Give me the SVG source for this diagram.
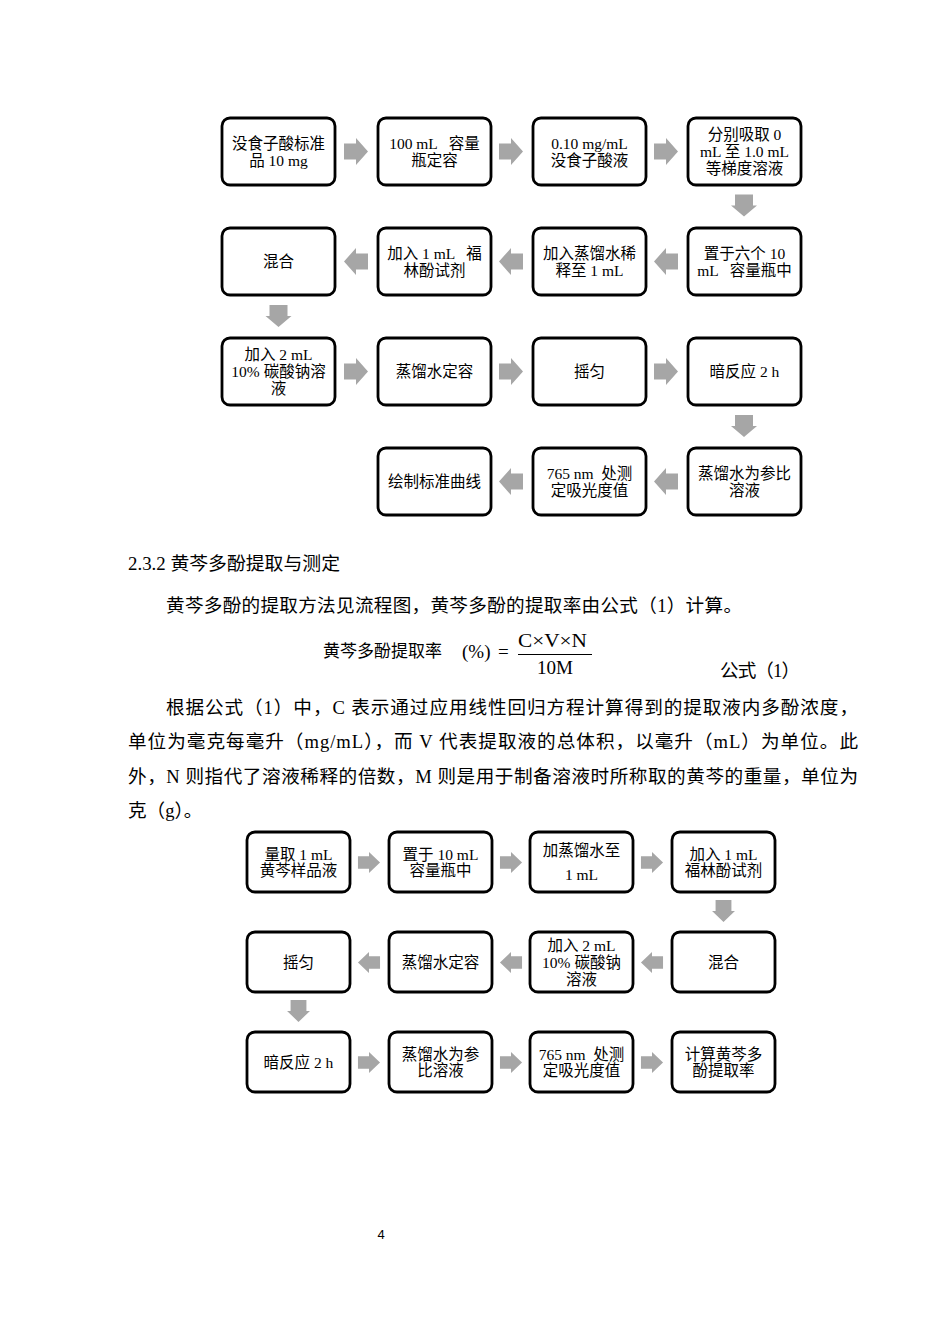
<svg xmlns="http://www.w3.org/2000/svg" width="950" height="1344" viewBox="0 0 950 1344">
<style>
.box{fill:#fff;stroke:#000;stroke-width:2.8}
.t{font-family:"Liberation Serif","Noto Sans CJK SC",sans-serif;font-size:15.5px;fill:#000;text-anchor:middle}
.b{font-family:"Liberation Serif","Noto Sans CJK SC",serif;font-size:18.6px;fill:#000}
.f{font-family:"Liberation Serif","Noto Sans CJK SC",serif;fill:#000}
.ar{fill:#A6A6A6}
</style>
<defs>
<polygon id="ah" points="-12,-8 0,-8 0,-13.5 12,0 0,13.5 0,8 -12,8"/>
<polygon id="av" points="-9,-11 9,-11 9,0 13,0 0,11 -13,0 -9,0"/>
</defs>
<rect width="950" height="1344" fill="#fff"/>

<g id="connectors" class="ar">
<!-- top flowchart -->
<use href="#ah" transform="translate(356,151.5)"/>
<use href="#ah" transform="translate(511,151.5)"/>
<use href="#ah" transform="translate(666,151.5)"/>
<use href="#av" transform="translate(744,205.5)"/>
<use href="#ah" transform="translate(666,261.5) rotate(180)"/>
<use href="#ah" transform="translate(511,261.5) rotate(180)"/>
<use href="#ah" transform="translate(356,261.5) rotate(180)"/>
<use href="#av" transform="translate(278.5,316)"/>
<use href="#ah" transform="translate(356,371.5)"/>
<use href="#ah" transform="translate(511,371.5)"/>
<use href="#ah" transform="translate(666,371.5)"/>
<use href="#av" transform="translate(744,426)"/>
<use href="#ah" transform="translate(666,481.5) rotate(180)"/>
<use href="#ah" transform="translate(511,481.5) rotate(180)"/>
<!-- bottom flowchart -->
<use href="#ah" transform="translate(369,862.5) scale(0.92,0.78)"/>
<use href="#ah" transform="translate(511,862.5) scale(0.92,0.78)"/>
<use href="#ah" transform="translate(652,862.5) scale(0.92,0.78)"/>
<use href="#av" transform="translate(723.5,911) scale(0.88,1)"/>
<use href="#ah" transform="translate(652,962.5) rotate(180) scale(0.92,0.78)"/>
<use href="#ah" transform="translate(511,962.5) rotate(180) scale(0.92,0.78)"/>
<use href="#ah" transform="translate(369,962.5) rotate(180) scale(0.92,0.78)"/>
<use href="#av" transform="translate(298.5,1011) scale(0.88,1)"/>
<use href="#ah" transform="translate(369,1062.5) scale(0.92,0.78)"/>
<use href="#ah" transform="translate(511,1062.5) scale(0.92,0.78)"/>
<use href="#ah" transform="translate(652,1062.5) scale(0.92,0.78)"/>
</g>

<!-- top flowchart nodes -->
<g id="n1"><rect class="box" x="222" y="118" width="113" height="67" rx="8"/>
<text class="t" x="278.5" y="148.5">没食子酸标准</text><text class="t" x="278.5" y="165.5">品 10 mg</text></g>
<g id="n2"><rect class="box" x="378" y="118" width="113" height="67" rx="8"/>
<text class="t" x="434.5" y="148.5" xml:space="preserve">100 mL   容量</text><text class="t" x="434.5" y="165.5">瓶定容</text></g>
<g id="n3"><rect class="box" x="533" y="118" width="113" height="67" rx="8"/>
<text class="t" x="589.5" y="148.5">0.10 mg/mL</text><text class="t" x="589.5" y="165.5">没食子酸液</text></g>
<g id="n4"><rect class="box" x="688" y="118" width="113" height="67" rx="8"/>
<text class="t" x="744.5" y="140">分别吸取 0</text><text class="t" x="744.5" y="157">mL 至 1.0 mL</text><text class="t" x="744.5" y="174">等梯度溶液</text></g>

<g id="n5"><rect class="box" x="688" y="228" width="113" height="67" rx="8"/>
<text class="t" x="744.5" y="258.5">置于六个 10</text><text class="t" x="744.5" y="275.5" xml:space="preserve">mL   容量瓶中</text></g>
<g id="n6"><rect class="box" x="533" y="228" width="113" height="67" rx="8"/>
<text class="t" x="589.5" y="258.5">加入蒸馏水稀</text><text class="t" x="589.5" y="275.5">释至 1 mL</text></g>
<g id="n7"><rect class="box" x="378" y="228" width="113" height="67" rx="8"/>
<text class="t" x="434.5" y="258.5" xml:space="preserve">加入 1 mL   福</text><text class="t" x="434.5" y="275.5">林酚试剂</text></g>
<g id="n8"><rect class="box" x="222" y="228" width="113" height="67" rx="8"/>
<text class="t" x="278.5" y="267">混合</text></g>

<g id="n9"><rect class="box" x="222" y="338" width="113" height="67" rx="8"/>
<text class="t" x="278.5" y="360">加入 2 mL</text><text class="t" x="278.5" y="377">10% 碳酸钠溶</text><text class="t" x="278.5" y="394">液</text></g>
<g id="n10"><rect class="box" x="378" y="338" width="113" height="67" rx="8"/>
<text class="t" x="434.5" y="377">蒸馏水定容</text></g>
<g id="n11"><rect class="box" x="533" y="338" width="113" height="67" rx="8"/>
<text class="t" x="589.5" y="377">摇匀</text></g>
<g id="n12"><rect class="box" x="688" y="338" width="113" height="67" rx="8"/>
<text class="t" x="744.5" y="377">暗反应 2 h</text></g>

<g id="n13"><rect class="box" x="688" y="448" width="113" height="67" rx="8"/>
<text class="t" x="744.5" y="478.5">蒸馏水为参比</text><text class="t" x="744.5" y="495.5">溶液</text></g>
<g id="n14"><rect class="box" x="533" y="448" width="113" height="67" rx="8"/>
<text class="t" x="589.5" y="478.5" xml:space="preserve">765 nm  处测</text><text class="t" x="589.5" y="495.5">定吸光度值</text></g>
<g id="n15"><rect class="box" x="378" y="448" width="113" height="67" rx="8"/>
<text class="t" x="434.5" y="487">绘制标准曲线</text></g>

<!-- text section -->
<g id="text">
<text class="b" x="128" y="569.5" textLength="212" lengthAdjust="spacingAndGlyphs">2.3.2 黄芩多酚提取与测定</text>
<text class="b" x="166" y="611.5" textLength="576" lengthAdjust="spacing">黄芩多酚的提取方法见流程图，黄芩多酚的提取率由公式（1）计算。</text>
<text class="f" x="323" y="657" font-size="17" textLength="119" lengthAdjust="spacing">黄芩多酚提取率</text>
<text class="f" x="462" y="657.5" font-size="19">(%)</text>
<text class="f" x="498" y="657.5" font-size="19">=</text>
<text class="f" x="518" y="647" font-size="19" textLength="69" lengthAdjust="spacingAndGlyphs">C×V×N</text>
<line x1="518" y1="654.5" x2="592" y2="654.5" stroke="#000" stroke-width="1"/>
<text class="f" x="537" y="674" font-size="19" textLength="36" lengthAdjust="spacingAndGlyphs">10M</text>
<text class="b" x="720" y="676.5" textLength="80" lengthAdjust="spacing">公式（1）</text>
<text class="b" x="166" y="713.5" textLength="692" lengthAdjust="spacing">根据公式（1）中，C 表示通过应用线性回归方程计算得到的提取液内多酚浓度，</text>
<text class="b" x="128" y="748" textLength="730" lengthAdjust="spacing">单位为毫克每毫升（mg/mL），而 V 代表提取液的总体积，以毫升（mL）为单位。此</text>
<text class="b" x="128" y="782.5" textLength="730" lengthAdjust="spacing">外，N 则指代了溶液稀释的倍数，M 则是用于制备溶液时所称取的黄芩的重量，单位为</text>
<text class="b" x="128" y="817">克（g）。</text>
</g>

<!-- bottom flowchart nodes -->
<g id="m1"><rect class="box" x="247" y="832" width="103" height="60" rx="8"/>
<text class="t" x="298.5" y="859.5">量取 1 mL</text><text class="t" x="298.5" y="875.5">黄芩样品液</text></g>
<g id="m2"><rect class="box" x="389" y="832" width="103" height="60" rx="8"/>
<text class="t" x="440.5" y="859.5">置于 10 mL</text><text class="t" x="440.5" y="875.5">容量瓶中</text></g>
<g id="m3"><rect class="box" x="530" y="832" width="103" height="60" rx="8"/>
<text class="t" x="581.5" y="855.5">加蒸馏水至</text><text class="t" x="581.5" y="879.5">1 mL</text></g>
<g id="m4"><rect class="box" x="672" y="832" width="103" height="60" rx="8"/>
<text class="t" x="723.5" y="859.5">加入 1 mL</text><text class="t" x="723.5" y="875.5">福林酚试剂</text></g>

<g id="m5"><rect class="box" x="672" y="932" width="103" height="60" rx="8"/>
<text class="t" x="723.5" y="967.5">混合</text></g>
<g id="m6"><rect class="box" x="530" y="932" width="103" height="60" rx="8"/>
<text class="t" x="581.5" y="950.5">加入 2 mL</text><text class="t" x="581.5" y="967.5">10% 碳酸钠</text><text class="t" x="581.5" y="984.5">溶液</text></g>
<g id="m7"><rect class="box" x="389" y="932" width="103" height="60" rx="8"/>
<text class="t" x="440.5" y="967.5">蒸馏水定容</text></g>
<g id="m8"><rect class="box" x="247" y="932" width="103" height="60" rx="8"/>
<text class="t" x="298.5" y="967.5">摇匀</text></g>

<g id="m9"><rect class="box" x="247" y="1032" width="103" height="60" rx="8"/>
<text class="t" x="298.5" y="1067.5">暗反应 2 h</text></g>
<g id="m10"><rect class="box" x="389" y="1032" width="103" height="60" rx="8"/>
<text class="t" x="440.5" y="1059.5">蒸馏水为参</text><text class="t" x="440.5" y="1075.5">比溶液</text></g>
<g id="m11"><rect class="box" x="530" y="1032" width="103" height="60" rx="8"/>
<text class="t" x="581.5" y="1059.5" xml:space="preserve">765 nm  处测</text><text class="t" x="581.5" y="1075.5">定吸光度值</text></g>
<g id="m12"><rect class="box" x="672" y="1032" width="103" height="60" rx="8"/>
<text class="t" x="723.5" y="1059.5">计算黄芩多</text><text class="t" x="723.5" y="1075.5">酚提取率</text></g>

<text x="381" y="1239" font-family="Liberation Sans, sans-serif" font-size="13" text-anchor="middle" fill="#000">4</text>
</svg>
